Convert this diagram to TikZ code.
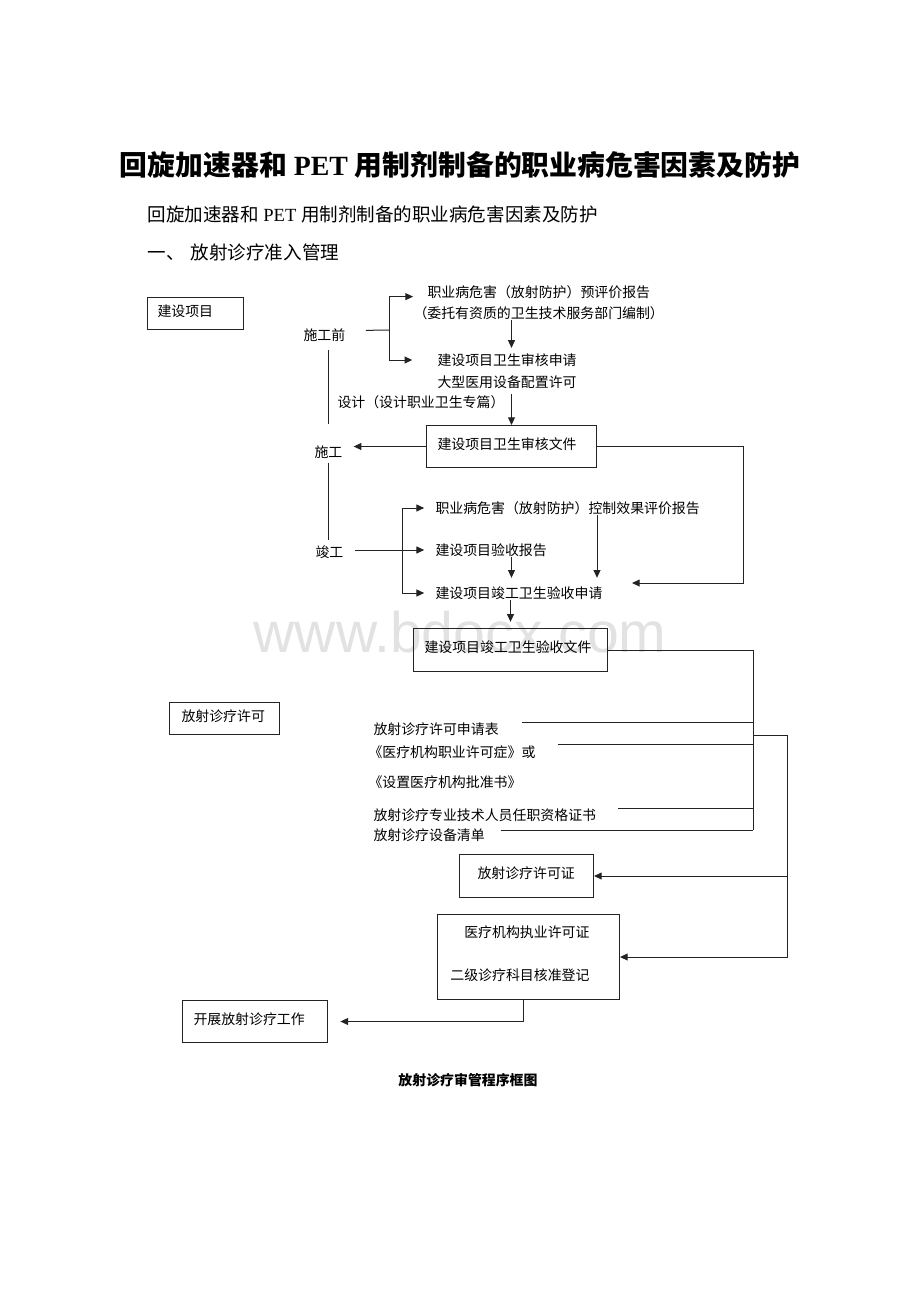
\documentclass[tikz,border=0pt]{standalone}
\usepackage{fontspec}
\setmainfont{Liberation Serif}
\setsansfont{Liberation Sans}
\newfontfamily\cjk{Noto Sans CJK SC}
\usetikzlibrary{positioning}
\usetikzlibrary{arrows.meta}
\definecolor{ln}{RGB}{35, 35, 35}
\definecolor{wm}{RGB}{226, 226, 226}
\def\pxu{0.647pt}
\newcommand{\boxnode}[7]{\node[box,minimum width=#4*\pxu,minimum height=#5*\pxu,anchor=north west] (#1) at (#2,#3) {};
	\node[txt] (#1t) at ([xshift=#6*\pxu,yshift=1.5pt]#1.west) {#7}; }

\begin{document}
\begin{tikzpicture}[x=0.647pt,y=-0.647pt,font=\cjk,line width=0.65pt,
	>={Triangle[length=5pt,width=4.5pt]},
	box/.style={draw=ln,rectangle,inner sep=0pt},
	txt/.style={anchor=west,inner sep=0pt,text height=7.9pt,text depth=1.1pt,font=\cjk\fontsize{9}{11}\selectfont}]
\useasboundingbox (0,0) rectangle (920,1302);

% watermark and page texts
\node[font=\sffamily\fontsize{37}{37}\selectfont,text=wm] (wmk) at (460,632) {www.bdocx.com};
\node[font=\fontsize{18}{22}\selectfont\bfseries] (title) at (460,165) {{\cjk 回旋加速器和} PET {\cjk 用制剂制备的职业病危害因素及防护}};
\node[anchor=west,inner sep=0pt,font=\fontsize{12}{15}\selectfont] (sub) at (147,214) {{\cjk 回旋加速器和} PET {\cjk 用制剂制备的职业病危害因素及防护}};
\node[anchor=west,inner sep=0pt,font=\cjk\fontsize{12}{15}\selectfont] (sec) at (147,252) {一、\hspace{4pt}放射诊疗准入管理};

\boxnode{jsxm}{147}{297}{96}{32}{10}{建设项目}
\boxnode{shwj}{426}{425}{170}{42}{11}{建设项目卫生审核文件}
\boxnode{jgwj}{413}{628}{194}{43}{11}{建设项目竣工卫生验收文件}
\boxnode{fsxk}{169}{702}{110}{32}{12}{放射诊疗许可}
\boxnode{xkz}{459}{854}{134}{43}{18}{放射诊疗许可证}
\boxnode{kzgz}{182}{1000}{145}{42}{11}{开展放射诊疗工作}
\node[box,minimum width=182*\pxu,minimum height=85*\pxu,anchor=north west] (yljg) at (437,914) {};
\node[align=right,anchor=east,inner sep=0pt,font=\cjk\fontsize{9}{27.8}\selectfont] (yljgt) at (590,953.5) {医疗机构执业许可证\\二级诊疗科目核准登记};

\node[txt] (sgq) at (303,335) {施工前};
\node[txt] (yph) at (427,292) {职业病危害（放射防护）预评价报告};
\node[txt] (wt) at (413,313) {（委托有资质的卫生技术服务部门编制）};
\node[txt] (shsq) at (437,360) {建设项目卫生审核申请};
\node[txt] (dxyy) at (437,382) {大型医用设备配置许可};
\node[txt] (sj) at (337,402) {设计（设计职业卫生专篇）};
\node[txt] (sg) at (314,452) {施工};
\node[txt] (jg) at (315,552) {竣工};
\node[txt] (kzxg) at (435,508) {职业病危害（放射防护）控制效果评价报告};
\node[txt] (ysbg) at (435,550) {建设项目验收报告};
\node[txt] (ysq) at (435,593) {建设项目竣工卫生验收申请};
\node[txt] (sqb) at (373,729) {放射诊疗许可申请表};
\node[txt] (zyxk) at (368,752) {《医疗机构职业许可症》或};
\node[txt] (pzs) at (368,782) {《设置医疗机构批准书》};
\node[txt] (zgzs) at (373,815) {放射诊疗专业技术人员任职资格证书};
\node[txt] (sbqd) at (373,835) {放射诊疗设备清单};

\node[font=\cjk\bfseries\fontsize{9}{11}\selectfont] (cap) at (468,1080) {放射诊疗审管程序框图};

\coordinate (qm) at (389,330);
\coordinate (kb) at ([xshift=-21pt]ysbg.west);
\coordinate (ret) at (632,583);
\coordinate (bus) at (753,830);
\coordinate (br) at (787,735);

% construction phase
\draw[color=ln] ([xshift=13pt,yshift=3pt]sgq.east) -- (qm);
\draw[->,color=ln] (qm) |- ([xshift=-9pt,yshift=-3pt]yph.west);
\draw[->,color=ln] (qm) |- ([xshift=-16pt]shsq.west);
\draw[->,color=ln] (wt.south -| shwj) -- ([yshift=3pt]shsq.north -| shwj);
\draw[->,color=ln] ([yshift=-3pt]dxyy.south -| shwj) -- (shwj.north);
\draw[->,color=ln] (shwj.west) -- ([xshift=7pt]sg.east |- shwj.west);
\draw[->,color=ln] (shwj.east) -- ++(146,0) |- (ret);
\draw[color=ln] (sgq.south -| sg) ++(0,8) -- ([yshift=13pt]sg.north);
\draw[color=ln] ([yshift=-2pt]sg.south) -- ([yshift=3pt]jg.north -| sg);
\draw[->,color=ln] ([xshift=7pt]jg.east |- ysbg.west) -- ([xshift=-7pt]ysbg.west);
\draw[->,color=ln] (kb) |- ([xshift=-7pt]kzxg.west);
\draw[->,color=ln] (kb) |- ([xshift=-7pt]ysq.west);
\draw[->,color=ln] (ysbg.south -| shwj) -- ([yshift=5pt]ysq.north -| shwj);
\draw[->,color=ln] (kzxg.south -| shwj.east) -- ([yshift=5pt]ysq.north -| shwj.east);
\draw[->,color=ln] (ysq.south -| jgwj) -- ([yshift=4pt]jgwj.north);

% permit phase
\draw[color=ln] (jgwj.east) -| (bus);
\draw[color=ln] ([xshift=15pt,yshift=4pt]sqb.east) -- ([yshift=4pt]sqb.east -| bus);
\draw[color=ln] ([xshift=14pt,yshift=5pt]zyxk.east) -- ([yshift=5pt]zyxk.east -| bus);
\draw[color=ln] ([xshift=14pt,yshift=4.5pt]zgzs.east) -- ([yshift=4.5pt]zgzs.east -| bus);
\draw[color=ln] ([xshift=10pt]sbqd.east |- bus) -- (bus);
\draw[color=ln] (br -| bus) -- (br);
\draw[->,color=ln] (br) |- (xkz.east);
\draw[->,color=ln] (br) |- (yljg.east);
\draw[->,color=ln] ([xshift=-3pt]yljg.south) |- ([xshift=8pt]kzgz.east);
\end{tikzpicture}
\end{document}
